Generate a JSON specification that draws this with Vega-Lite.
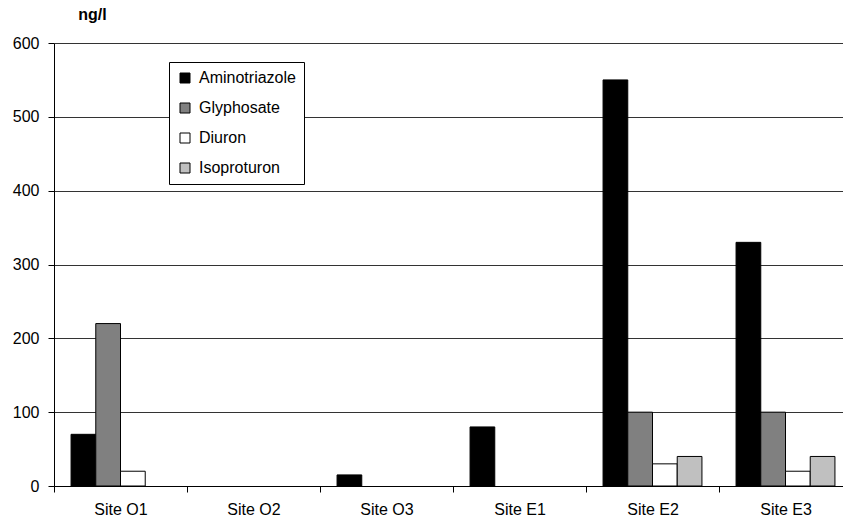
{
  "$schema": "https://vega.github.io/schema/vega-lite/v6.json",
  "autosize": "none",
  "width": 789,
  "height": 443,
  "padding": {"left": 54, "top": 43, "right": 0, "bottom": 35},
  "background": "white",
  "config": {
    "view": {"stroke": null},
    "font": "Liberation Sans",
    "axis": {"labelFont": "Liberation Sans", "titleFont": "Liberation Sans", "labelColor": "black", "titleColor": "black"}
  },
  "data": {
    "values": [
      {"site": "Site O1", "compound": "Aminotriazole", "value": 70},
      {"site": "Site O1", "compound": "Glyphosate", "value": 220},
      {"site": "Site O1", "compound": "Diuron", "value": 20},
      {"site": "Site O1", "compound": "Isoproturon", "value": 0},
      {"site": "Site O2", "compound": "Aminotriazole", "value": 0},
      {"site": "Site O2", "compound": "Glyphosate", "value": 0},
      {"site": "Site O2", "compound": "Diuron", "value": 0},
      {"site": "Site O2", "compound": "Isoproturon", "value": 0},
      {"site": "Site O3", "compound": "Aminotriazole", "value": 15},
      {"site": "Site O3", "compound": "Glyphosate", "value": 0},
      {"site": "Site O3", "compound": "Diuron", "value": 0},
      {"site": "Site O3", "compound": "Isoproturon", "value": 0},
      {"site": "Site E1", "compound": "Aminotriazole", "value": 80},
      {"site": "Site E1", "compound": "Glyphosate", "value": 0},
      {"site": "Site E1", "compound": "Diuron", "value": 0},
      {"site": "Site E1", "compound": "Isoproturon", "value": 0},
      {"site": "Site E2", "compound": "Aminotriazole", "value": 550},
      {"site": "Site E2", "compound": "Glyphosate", "value": 100},
      {"site": "Site E2", "compound": "Diuron", "value": 30},
      {"site": "Site E2", "compound": "Isoproturon", "value": 40},
      {"site": "Site E3", "compound": "Aminotriazole", "value": 330},
      {"site": "Site E3", "compound": "Glyphosate", "value": 100},
      {"site": "Site E3", "compound": "Diuron", "value": 20},
      {"site": "Site E3", "compound": "Isoproturon", "value": 40}
    ]
  },
  "transform": [{"filter": "datum.value > 0"}],
  "mark": {"type": "bar", "stroke": "black", "strokeWidth": 1},
  "encoding": {
    "x": {
      "field": "site", "type": "nominal", "sort": null,
      "scale": {"domain": ["Site O1", "Site O2", "Site O3", "Site E1", "Site E2", "Site E3"], "range": [0, 798], "paddingInner": 0, "paddingOuter": 0},
      "axis": {
        "title": null, "labelAngle": 0, "tickBand": "extent", "tickSize": 6, "tickColor": "black",
        "domainColor": "black", "labelFontSize": 16, "labelPadding": 9
      }
    },
    "xOffset": {
      "field": "compound", "type": "nominal",
      "scale": {"domain": ["Aminotriazole", "Glyphosate", "Diuron", "Isoproturon"], "paddingOuter": 0.69, "paddingInner": 0}
    },
    "y": {
      "field": "value", "type": "quantitative",
      "scale": {"domain": [0, 600], "nice": false},
      "axis": {
        "values": [0, 100, 200, 300, 400, 500, 600],
        "title": "ng/l", "titleAngle": 0, "titleAlign": "center", "titleBaseline": "alphabetic",
        "titleX": 38, "titleY": -24, "titleFontSize": 16, "titleFontWeight": "bold",
        "labelFontSize": 16, "labelPadding": 9, "tickSize": 6, "tickColor": "black",
        "domainColor": "black", "grid": true, "gridColor": "#333333", "gridWidth": 1
      }
    },
    "fill": {
      "field": "compound", "type": "nominal",
      "scale": {"domain": ["Aminotriazole", "Glyphosate", "Diuron", "Isoproturon"], "range": ["#000000", "#808080", "#ffffff", "#c0c0c0"]},
      "legend": {
        "title": null, "orient": "none", "legendX": 115, "legendY": 19,
        "symbolType": "square", "symbolSize": 100, "symbolStrokeColor": "black", "symbolStrokeWidth": 1,
        "labelFontSize": 16, "labelColor": "black", "labelFont": "Liberation Sans",
        "rowPadding": 14, "padding": 8, "strokeColor": "black", "fillColor": "white",
        "labelOffset": 6
      }
    }
  }
}
